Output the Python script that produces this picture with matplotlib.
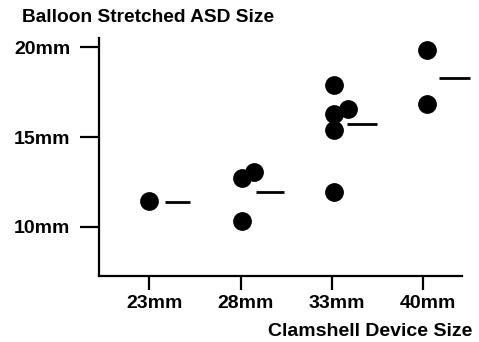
import numpy as np
import matplotlib
matplotlib.use('Agg')
import matplotlib.pyplot as plt
from matplotlib.transforms import ScaledTranslation

plt.rcParams['font.family'] = ['Liberation Sans', 'DejaVu Sans']
plt.rcParams['font.weight'] = 'bold'

categories = ['23mm', '28mm', '33mm', '40mm']

# balloon stretched sizes per device size (mm)
balloon_23 = [11.45]
balloon_28 = [12.7, 13.07, 10.33]
balloon_33 = [17.9, 16.28, 16.56, 15.4, 11.96]
balloon_40 = [19.87, 16.84]

# small horizontal shifts used in the original to separate touching dots
shift_23 = [0.0]
shift_28 = [0.02, 0.15, 0.02]
shift_33 = [0.02, 0.02, 0.18, 0.02, 0.02]
shift_40 = [0.04, 0.04]

# mean values shown as short dashes
means = [11.4, 11.94, 15.72, 18.3]

y_ticks = [10, 15, 20]
y_labels = ['10mm', '15mm', '20mm']

groups = [balloon_23, balloon_28, balloon_33, balloon_40]
shifts = [shift_23, shift_28, shift_33, shift_40]

fig = plt.figure(figsize=(4.79, 3.42), dpi=100)
ax = fig.add_axes([99 / 479, 1 - 276 / 342, (461.7 - 99) / 479, (276 - 38) / 342])

for i, (vals, sh) in enumerate(zip(groups, shifts)):
    xs = i + np.array(sh)
    ax.plot(xs, vals, 'o', color='black', markersize=12.5, clip_on=False)
    ax.plot([i + 0.17, i + 0.45 + 0.02 * i], [means[i], means[i]],
            color='black', linewidth=2.0, solid_capstyle='butt', clip_on=False)

ax.set_xlim(-0.55, 3.42)
ax.set_ylim(7.25, 20.52)

ax.spines['top'].set_visible(False)
ax.spines['right'].set_visible(False)
ax.spines['left'].set_linewidth(1.6)
ax.spines['bottom'].set_linewidth(1.6)

ax.set_xticks(range(len(categories)))
ax.set_xticklabels(categories, fontsize=14, fontweight='bold')
ax.set_yticks(y_ticks)
ax.set_yticklabels(y_labels, fontsize=14, fontweight='bold')
# tick lengths in points (72/100 of a pixel at this dpi)
ax.tick_params(axis='x', length=10, width=1.6, pad=4)
ax.tick_params(axis='y', length=13.7, width=1.6, pad=7)

offset = ScaledTranslation(5 / 100, 0, fig.dpi_scale_trans)
for lab in ax.get_xticklabels():
    lab.set_transform(lab.get_transform() + offset)

fig.text(22 / 479, 1 - 17 / 342, 'Balloon Stretched ASD Size', fontsize=13.8,
         fontweight='bold', ha='left', va='center')
fig.text(472 / 479, 1 - 331 / 342, 'Clamshell Device Size', fontsize=14,
         fontweight='bold', ha='right', va='center')

fig.savefig('out.png', dpi=100)
